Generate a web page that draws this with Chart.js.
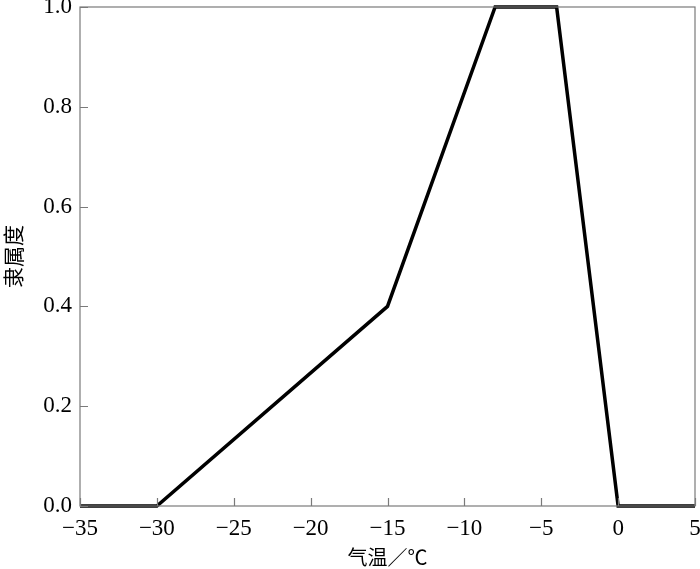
<!DOCTYPE html>
<html>
<head>
<meta charset="utf-8">
<script src="https://cdn.jsdelivr.net/npm/chart.js@4"></script>
<style>
  html, body { margin: 0; padding: 0; background: #fff; }
  #wrap { width: 700px; height: 569px; }
</style>
</head>
<body>
<div id="wrap"><canvas id="myChart"></canvas></div>
<script>
// 气温 (x) y 隶属度 (y)
const temps = [-35, -30, -15, -8, -4, 0, 5];
const membership = [0, 0, 0.4, 1, 1, 0, 0];
const xTicks = [-35, -30, -25, -20, -15, -10, -5, 0, 5];
const yTicks = [0, 0.2, 0.4, 0.6, 0.8, 1.0];

const serif = '"Liberation Serif", "Times New Roman", serif';
const cjk = '"Noto Sans CJK SC", sans-serif';
const frameColor = '#7a7a7a';

// marco completo y marcas de graduación hacia dentro
const frameTicks = {
    id: 'frameTicks',
    afterDatasetsDraw(chart) {
        const { ctx, chartArea: a, scales } = chart;
        ctx.save();
        ctx.strokeStyle = frameColor;
        ctx.lineWidth = 1.2;
        ctx.strokeRect(a.left, a.top, a.right - a.left, a.bottom - a.top);
        ctx.beginPath();
        xTicks.forEach(v => {
            const px = Math.round(scales.x.getPixelForValue(v)) + 0.5;
            ctx.moveTo(px, a.bottom);
            ctx.lineTo(px, a.bottom - 8);
        });
        yTicks.forEach(v => {
            const py = Math.round(scales.y.getPixelForValue(v)) + 0.5;
            ctx.moveTo(a.left, py);
            ctx.lineTo(a.left + 8, py);
        });
        ctx.stroke();
        ctx.restore();
    }
};

const ctx = document.getElementById('myChart').getContext('2d');
const myChart = new Chart(ctx, {
    type: 'line',
    data: {
        datasets: [{
            data: temps.map((t, i) => ({ x: t, y: membership[i] })),
            borderColor: '#000',
            borderWidth: 3.5,
            pointRadius: 0,
            fill: false,
            tension: 0,
            clip: false,
            borderJoinStyle: 'miter'
        }]
    },
    options: {
        responsive: true,
        maintainAspectRatio: false,
        animation: false,
        layout: { padding: { top: 7, right: 5, left: 0, bottom: 0 } },
        plugins: {
            legend: { display: false },
            tooltip: { enabled: false }
        },
        scales: {
            x: {
                type: 'linear',
                min: -35,
                max: 5,
                grid: { display: false, drawTicks: false },
                border: { display: false },
                afterBuildTicks: scale => { scale.ticks = xTicks.map(v => ({ value: v })); },
                afterFit: scale => {
                    scale.height = 63;
                    scale.paddingLeft = 0;
                    scale.paddingRight = 0;
                },
                ticks: {
                    color: '#000',
                    padding: 9,
                    maxRotation: 0,
                    font: { family: serif, size: 23 },
                    callback: v => (v < 0 ? '\u2212' + Math.abs(v) : String(v))
                },
                title: {
                    display: true,
                    text: '气温／℃',
                    color: '#000',
                    font: { family: cjk, size: 20 },
                    padding: { top: 0, bottom: 0 }
                }
            },
            y: {
                min: 0,
                max: 1,
                grid: { display: false, drawTicks: false },
                border: { display: false },
                afterBuildTicks: scale => { scale.ticks = yTicks.map(v => ({ value: v })); },
                afterFit: scale => {
                    scale.width = 80;
                    scale.paddingTop = 0;
                    scale.paddingBottom = 0;
                },
                ticks: {
                    color: '#000',
                    padding: 8,
                    font: { family: serif, size: 23 },
                    callback: v => Number(v).toFixed(1)
                },
                title: {
                    display: true,
                    text: '隶属度',
                    color: '#000',
                    font: { family: cjk, size: 21 },
                    padding: { top: 0, bottom: 0 }
                }
            }
        }
    },
    plugins: [frameTicks]
});
</script>
</body>
</html>
